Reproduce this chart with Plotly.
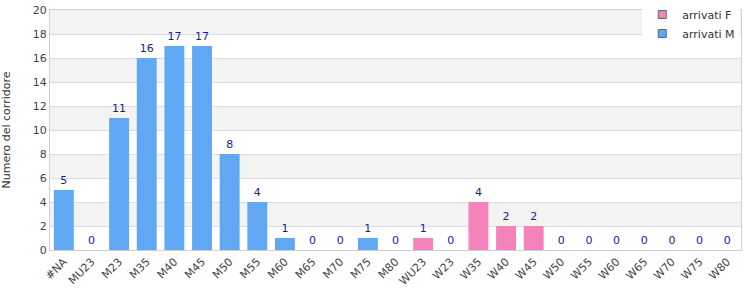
import plotly.graph_objects as go

categories = ["#NA", "MU23", "M23", "M35", "M40", "M45", "M50", "M55", "M60", "M65",
              "M70", "M75", "M80", "WU23", "W23", "W35", "W40", "W45", "W50", "W55",
              "W60", "W65", "W70", "W75", "W80"]
m_categories = categories[:13]
m_values = [5, 0, 11, 16, 17, 17, 8, 4, 1, 0, 0, 1, 0]
f_categories = categories[13:]
f_values = [1, 0, 4, 2, 2, 0, 0, 0, 0, 0, 0, 0]
y_ticks = [0, 2, 4, 6, 8, 10, 12, 14, 16, 18, 20]

BLUE = "#60a8f4"
PINK = "#f383ba"
LABEL = "#1c1c8c"

fig = go.Figure()
fig.add_trace(go.Bar(
    x=f_categories, y=f_values, name="arrivati F", showlegend=False,
    marker=dict(color=PINK, line=dict(width=0)),
    text=[str(v) for v in f_values], textposition="outside",
    textfont=dict(color=LABEL, size=11), cliponaxis=False, width=0.72,
))
fig.add_trace(go.Bar(
    x=m_categories, y=m_values, name="arrivati M", showlegend=False,
    marker=dict(color=BLUE, line=dict(width=0)),
    text=[str(v) for v in m_values], textposition="outside",
    textfont=dict(color=LABEL, size=11), cliponaxis=False, width=0.72,
))
# legend entries
for nm, col in (("arrivati F", PINK), ("arrivati M", BLUE)):
    fig.add_trace(go.Scatter(
        x=[None], y=[None], mode="markers", name=nm,
        marker=dict(symbol="square", size=8, color=col, line=dict(color="#666", width=1)),
    ))

shapes = []
for lo in y_ticks[1:-1:2]:
    shapes.append(dict(type="rect", xref="paper", yref="y", x0=0, x1=1,
                       y0=lo, y1=lo + 2, fillcolor="#f3f3f3",
                       line=dict(width=0), layer="below"))

fig.update_layout(
    width=750, height=300,
    margin=dict(l=50, r=9, t=10, b=50, autoexpand=False),
    paper_bgcolor="white", plot_bgcolor="white",
    font=dict(family="DejaVu Sans", size=11, color="#444"),
    showlegend=True,
    legend=dict(xref="container", yref="container", x=0.987, xanchor="right",
                y=1.0, yanchor="top",
                bgcolor="white", font=dict(size=11, color="#333"),
                traceorder="normal", itemwidth=30, tracegroupgap=0,
                borderwidth=0),
    bargap=0.28,
    shapes=shapes,
    xaxis=dict(categoryorder="array", categoryarray=categories,
               tickangle=-45, tickfont=dict(size=11, color="#444"),
               showline=True, linecolor="#d0d0d0", mirror=True,
               showgrid=False, ticks=""),
    yaxis=dict(range=[0, 20], tickvals=y_ticks, showgrid=True,
               gridcolor="#dcdcdc", tickfont=dict(size=11, color="#444"),
               showline=True, linecolor="#d0d0d0", mirror=True, zeroline=False,
               title=dict(text="Numero del corridore", font=dict(size=11, color="#333"),
                          standoff=20)),
)

fig.write_html("out.html")
